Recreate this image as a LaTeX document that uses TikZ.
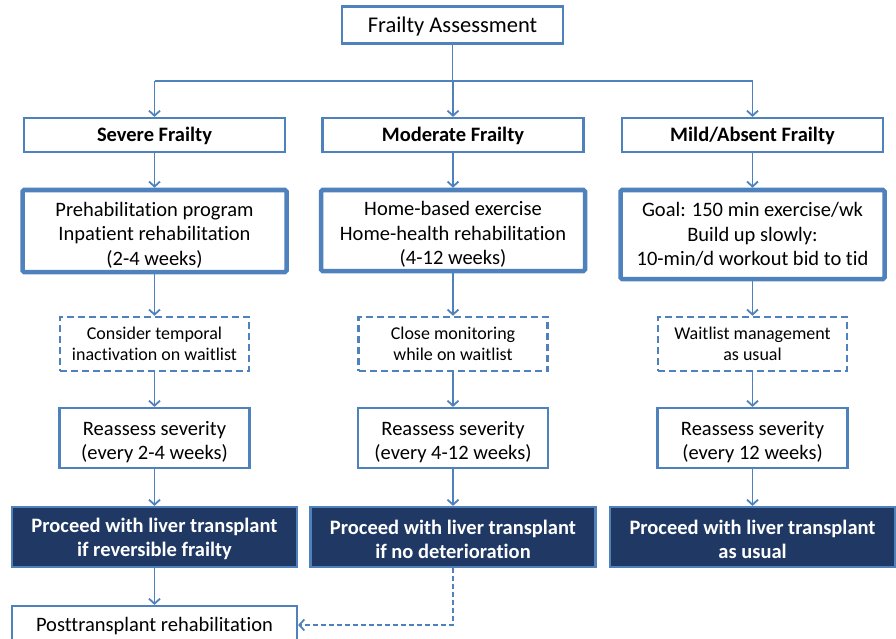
\documentclass[tikz,border=0pt]{standalone}
\usepackage{fontspec}
\setmainfont{Carlito}[Ligatures=NoCommon]
\usepackage{xcolor}
\usetikzlibrary{arrows.meta}
\definecolor{frameblue}{HTML}{4F81BD}
\definecolor{navyfill}{HTML}{1F3864}
\newcommand{\lift}[1]{\rule{0pt}{#1}}

\begin{document}
\begin{tikzpicture}[x=1pt,y=-1pt,
    box/.style={draw=frameblue, line width=2.2pt, fill=white, align=center, inner sep=0pt,
        font=\fontsize{20.5}{24.5}\selectfont},
    thickbox/.style={box, line width=4.5pt, rounded corners=1.5pt},
    dashbox/.style={box, line width=2.5pt, dash pattern=on 7pt off 4pt, font=\fontsize{18}{21.5}\selectfont},
    darkbox/.style={box, fill=navyfill, text=white, font=\fontsize{20.5}{24}\selectfont\bfseries},
    link/.style={draw=frameblue, line width=1.8pt},
    arr/.style={link, -{Straight Barb[length=5pt,width=11pt]}}]
    \useasboundingbox (0,0) rectangle (896,639);

    % Top
    \node[box, minimum width=221, minimum height=37, font=\fontsize{22.5}{26}\selectfont] (assess) at (452.5,25) {\lift{19.5pt}Frailty Assessment};
    \coordinate (bus) at (452.5,81);

    % Severe column
    \node[box, minimum width=261, minimum height=34, font=\fontsize{20.5}{24}\selectfont\bfseries] (severe) at (154.5,135) {\lift{16.5pt}Severe Frailty};
    \node[thickbox, minimum width=264, minimum height=82] (sevprog) at (154.5,231) {\lift{22.5pt}Prehabilitation program\\Inpatient rehabilitation\\(2-4 weeks)};
    \node[dashbox, minimum width=189, minimum height=54] (sevwait) at (154.5,344) {Consider temporal\\inactivation on waitlist};
    \node[box, minimum width=190, minimum height=60] (sevcheck) at (154.5,438) {\lift{22pt}Reassess severity\\(every 2-4 weeks)};
    \node[darkbox, minimum width=285, minimum height=60] (sevgo) at (154.5,537) {\lift{18.5pt}Proceed with liver transplant\\if reversible frailty};
    \node[box, minimum width=285, minimum height=38] (post) at (154.5,625) {\lift{16.5pt}Posttransplant rehabilitation};

    % Moderate column
    \node[box, minimum width=261, minimum height=34, font=\fontsize{20.5}{24}\selectfont\bfseries] (moderate) at (453,135) {\lift{16.5pt}Moderate Frailty};
    \node[thickbox, minimum width=264, minimum height=81] (modprog) at (453,230.5) {\lift{22.5pt}Home-based exercise\\Home-health rehabilitation\\(4-12 weeks)};
    \node[dashbox, minimum width=189, minimum height=54] (modwait) at (453,344) {Close monitoring\\while on waitlist};
    \node[box, minimum width=190, minimum height=60] (modcheck) at (453,438) {\lift{22pt}Reassess severity\\(every 4-12 weeks)};
    \node[darkbox, minimum width=285, minimum height=60] (modgo) at (453,537) {\lift{18.5pt}Proceed with liver transplant\\if no deterioration};

    % Mild column
    \node[box, minimum width=261, minimum height=34, font=\fontsize{20.5}{24}\selectfont\bfseries] (mild) at (752.5,135) {\lift{16.5pt}Mild/Absent Frailty};
    \node[thickbox, minimum width=264, minimum height=89] (mildprog) at (752.5,234.5) {Goal: 150 min exercise/wk\\Build up slowly:\\10-min/d workout bid to tid};
    \node[dashbox, minimum width=189, minimum height=54] (mildwait) at (752.5,344) {Waitlist management\\as usual};
    \node[box, minimum width=190, minimum height=60] (mildcheck) at (752.5,438) {\lift{22pt}Reassess severity\\(every 12 weeks)};
    \node[darkbox, minimum width=285, minimum height=60] (mildgo) at (752.5,537) {\lift{18.5pt}Proceed with liver transplant\\as usual};

    % Connectors
    \draw[link] (assess.south) -- (bus);
    \draw[link] (severe.north |- bus) -- (mild.north |- bus);
    \foreach \n in {severe,moderate,mild}
        \draw[arr] (\n.north |- bus) -- (\n.north);
    \foreach \a/\b in {severe/sevprog, sevprog/sevwait, sevwait/sevcheck, sevcheck/sevgo, sevgo/post,
                       moderate/modprog, modprog/modwait, modwait/modcheck, modcheck/modgo,
                       mild/mildprog, mildprog/mildwait, mildwait/mildcheck, mildcheck/mildgo}
        \draw[arr] (\a.south) -- (\b.north);
    \draw[arr, dash pattern=on 5pt off 3pt] (modgo.south) |- (post.east);
\end{tikzpicture}
\end{document}
